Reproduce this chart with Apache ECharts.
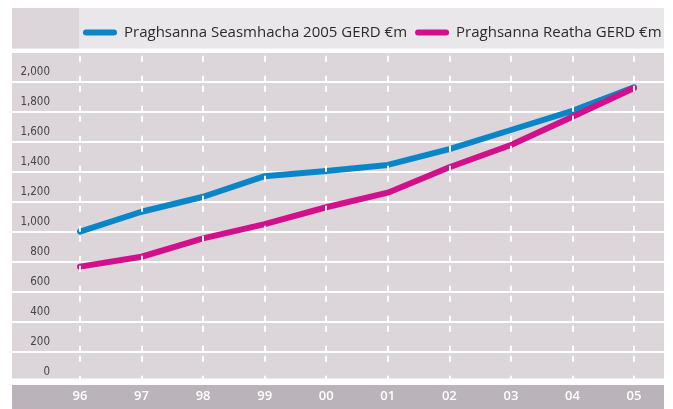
<!DOCTYPE html>
<html>
<head>
<meta charset="utf-8">
<script src="https://cdn.jsdelivr.net/npm/echarts@6/dist/echarts.min.js"></script>
<style>
  html, body { margin: 0; padding: 0; background: #fff; }
  #chart { width: 673px; height: 409px; }
</style>
</head>
<body>
<div id="chart"></div>
<script>
// years on the x axis
const years = ["96", "97", "98", "99", "00", "01", "02", "03", "04", "05"];
// GERD at constant 2005 prices, €m
const constantPrices = [1000, 1133, 1233, 1370, 1405, 1445, 1550, 1678, 1806, 1962];
// GERD at current prices, €m
const currentPrices = [767, 833, 955, 1050, 1163, 1260, 1430, 1578, 1766, 1958];

const seriesNames = ["Praghsanna Seasmhacha 2005 GERD €m", "Praghsanna Reatha GERD €m"];
const yTicks = { min: 0, max: 2200, interval: 200 };

const chart = echarts.init(document.getElementById("chart"));

// plot area is shared by both grids so the white bands line up with the data
const plotTop = 51.7;
const plotHeight = 330;

const roundBar = "path://M3,0 L31,0 A3,3 0 0 1 31,6 L3,6 A3,3 0 0 1 3,0 Z";

const option = {
  animation: false,
  backgroundColor: "#ffffff",
  graphic: [
    // legend header strip
    { type: "rect", z: 1, shape: { x: 12, y: 8, width: 652, height: 40.5 }, style: { fill: "#e9e7ea" } },
    { type: "rect", z: 1, shape: { x: 12, y: 8, width: 67, height: 40.5 }, style: { fill: "#dcd6da" } },
    // white gap under the plot + dark category strip
    { type: "rect", z: 1, shape: { x: 0, y: 378.5, width: 673, height: 6.5 }, style: { fill: "#ffffff" } },
    { type: "rect", z: 1, shape: { x: 12, y: 385, width: 652, height: 24 }, style: { fill: "#bab3ba" } }
  ],
  legend: {
    left: 83,
    top: 25,
    padding: 0,
    itemWidth: 34,
    itemHeight: 6,
    itemGap: 8,
    icon: roundBar,
    textStyle: { fontFamily: "Open Sans", fontSize: 15, color: "#2b2b2b", padding: [0, 0, 0, 2] },
    data: seriesNames
  },
  grid: [
    { left: 12, right: 9, top: plotTop, height: plotHeight, show: true, backgroundColor: "#dcd6da", borderWidth: 0 },
    { left: 80, right: 39, top: plotTop, height: plotHeight, show: false }
  ],
  xAxis: [
    { gridIndex: 0, type: "value", show: false },
    {
      gridIndex: 1,
      type: "category",
      boundaryGap: false,
      data: years,
      z: 10,
      axisLine: { show: false },
      axisTick: { show: false },
      axisLabel: {
        margin: 8,
        color: "#ffffff",
        fontFamily: "Open Sans",
        fontWeight: 600,
        fontSize: 13
      },
      splitLine: {
        show: true,
        lineStyle: { color: "#ffffff", width: 2, type: [6, 14, 6, 4], dashOffset: 26 }
      }
    }
  ],
  yAxis: [
    {
      gridIndex: 0,
      type: "value",
      min: yTicks.min,
      max: yTicks.max,
      interval: yTicks.interval,
      axisLine: { show: false },
      axisTick: { show: false },
      splitLine: { show: true, lineStyle: { color: "#ffffff", width: 2 } },
      axisLabel: {
        inside: true,
        margin: 38,
        align: "right",
        verticalAlign: "bottom",
        padding: [0, 0, 4, 0],
        color: "#444444",
        fontFamily: "DejaVu Sans Condensed, Liberation Sans Narrow, sans-serif",
        fontSize: 11.5,
        formatter: (v) => (v === yTicks.max ? "" : v.toLocaleString("en-US"))
      }
    },
    {
      gridIndex: 1,
      type: "value",
      min: yTicks.min,
      max: yTicks.max,
      interval: yTicks.interval,
      show: false,
      splitLine: { show: false }
    }
  ],
  series: [
    {
      name: seriesNames[0],
      type: "line",
      xAxisIndex: 1,
      yAxisIndex: 1,
      data: constantPrices,
      symbol: "none",
      z: 3,
      itemStyle: { color: "#0a86c8" },
      lineStyle: { width: 6, color: "#0a86c8", cap: "round", join: "round" }
    },
    {
      name: seriesNames[1],
      type: "line",
      xAxisIndex: 1,
      yAxisIndex: 1,
      data: currentPrices,
      symbol: "none",
      z: 4,
      itemStyle: { color: "#d2108b" },
      lineStyle: { width: 6, color: "#d2108b", cap: "round", join: "round" }
    }
  ]
};

chart.setOption(option);
</script>
</body>
</html>
